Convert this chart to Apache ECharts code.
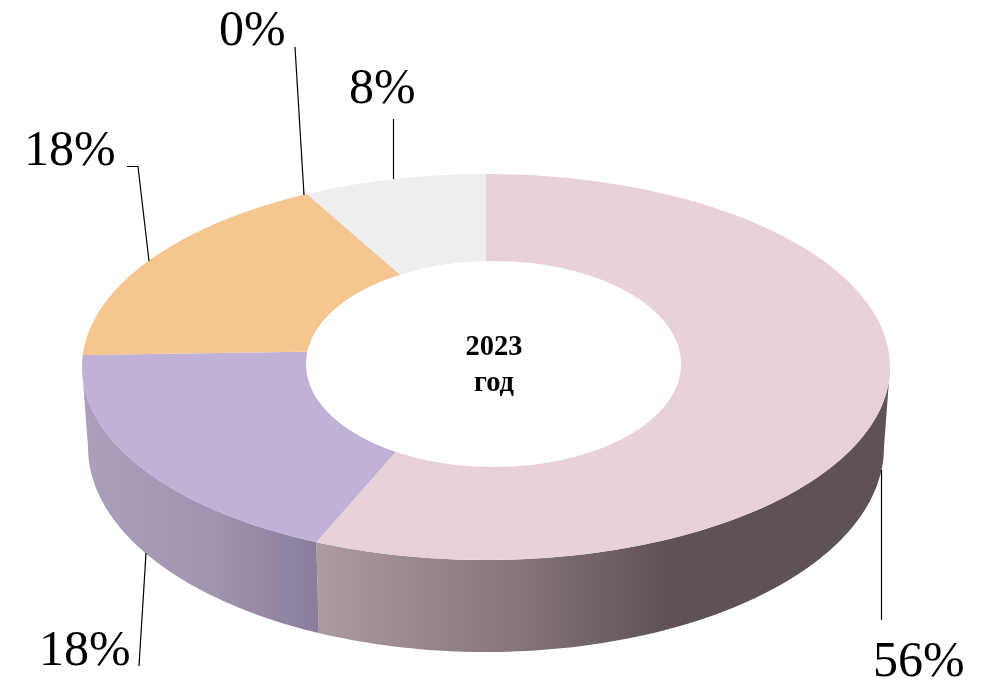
<!DOCTYPE html>
<html>
<head>
<meta charset="utf-8">
<style>html,body{margin:0;padding:0;background:#fff}#c{width:986px;height:681px}</style>
<script src="https://cdn.jsdelivr.net/npm/echarts@6/dist/echarts.min.js"></script>
</head>
<body>
<div id="c"></div>
<script>
// Data (estimated shares; the labels show them rounded)
var shareValues = [56.3, 18.2, 17.5, 0, 8];
var centerLines = ['2023', 'год'];

// Styles
var faceColors = ['#E8D1D9', '#C0B2D7', '#F5C690', '#F5C690', '#EEEEEE'];
var wallStops = [
  [{x:316,c:'#AD9C9F'},{x:520,c:'#857478'},{x:665,c:'#5F5256'}],
  [{x:84,c:'#AB9FBC'},{x:210,c:'#A294B0'},{x:318,c:'#887E9B'}],
  null, null, null
];

// Layout: perspective ring geometry
var G = {
  cx:486, cy:367, rx:404, ry:193,      // top face outline
  hubY:349, k:0.0933,                  // where the spokes converge and perspective strength
  botRx:398, botCy:447, botRy:205,     // lower rim of the wall
  holeCx:493.5, holeCy:364, holeRx:187.5, holeRy:103
};
// Layout: leader lines and labels, one per slice
var leaderPaths = [
  [[881.5,470],[881.5,620]],
  [[146,553],[139,666]],
  [[149,261],[138,166.5],[127,166.5]],
  [[304,195],[295,47]],
  [[393.5,179],[393.5,119]]
];
var labelAnchors = [[873,679],[39,668],[24,168],[219,48],[349,106]];
var LABEL_ASCENT = 41, CENTER_ASCENT = 24;

var total = shareValues.reduce(function(a,b){return a+b;},0);
var T = Math.PI*2;

function rimPoint(theta){
  var u=Math.sin(theta), v=Math.cos(theta);
  var a=G.rx*Math.sqrt(1-G.k*G.k), b=G.ry*(1-G.k*G.k);
  var w=1+G.k*v;
  return [G.cx+a*u/w, G.hubY-b*v/w];
}
function rimAngle(theta){ // parametric angle on the outline ellipse
  var p=rimPoint(theta);
  var f=Math.atan2((p[0]-G.cx)/G.rx,(G.cy-p[1])/G.ry);
  if(f<0) f+=T;
  if(theta>=T-1e-6) f=T;
  return f;
}
function topAt(f){ return [G.cx+G.rx*Math.sin(f), G.cy-G.ry*Math.cos(f)]; }
function botAt(f){ return [G.cx+G.botRx*Math.sin(f), G.botCy-G.botRy*Math.cos(f)]; }

function renderSlice(params, api){
  var i=params.dataIndex, val=api.value(0), before=0;
  for(var n=0;n<i;n++) before+=shareValues[n];
  var t0=before/total*T, t1=(before+val)/total*T;
  var f0=rimAngle(t0), f1=rimAngle(t1), children=[], n2, STEPS=90;
  if(t0===0) f0=0;

  if(val>0){
    var face=[[G.cx,G.hubY]];
    for(n2=0;n2<=STEPS;n2++) face.push(topAt(f0+(f1-f0)*n2/STEPS));
    children.push({type:'polygon',shape:{points:face},style:{fill:faceColors[i]},z2:5});

    var a=Math.max(f0,Math.PI/2), b=Math.min(f1,Math.PI*1.5);
    if(b>a && wallStops[i]){
      var up=[], down=[];
      for(n2=0;n2<=STEPS;n2++){
        var f=a+(b-a)*n2/STEPS;
        up.push(topAt(f)); down.unshift(botAt(f));
      }
      var st=wallStops[i], x0=st[0].x, x1=st[st.length-1].x;
      children.push({type:'polygon',shape:{points:up.concat(down)},z2:3,style:{
        fill:new echarts.graphic.LinearGradient(x0,0,x1,0,st.map(function(s){
          return {offset:(s.x-x0)/(x1-x0),color:s.c};
        }),true)
      }});
    }
  }
  children.push({type:'polyline',shape:{points:leaderPaths[i]},z2:8,
    style:{fill:null,stroke:'#000',lineWidth:1.2}});
  children.push({type:'text',z2:9,style:{
    text:Math.round(val)+'%',x:labelAnchors[i][0],y:labelAnchors[i][1]-LABEL_ASCENT,
    fill:'#000',font:'50px "Liberation Serif"',textAlign:'left',textBaseline:'top'
  }});
  return {type:'group',children:children};
}

var chart=echarts.init(document.getElementById('c'),null,{renderer:'canvas'});
chart.setOption({
  backgroundColor:'#fff',
  animation:false,
  tooltip:{show:false},
  series:[{
    type:'custom',
    coordinateSystem:'none',
    silent:true,
    clip:false,
    data:shareValues.map(function(v){return [v];}),
    encode:{value:0},
    renderItem:renderSlice
  }],
  graphic:[
    {type:'ellipse',z:10,silent:true,shape:{cx:G.holeCx,cy:G.holeCy,rx:G.holeRx,ry:G.holeRy},style:{fill:'#fff'}},
    {type:'text',z:11,silent:true,style:{text:centerLines[0],x:494,y:357-CENTER_ASCENT,fill:'#000',
      font:'bold 28.5px "Liberation Serif"',textAlign:'center',textBaseline:'top'}},
    {type:'text',z:11,silent:true,style:{text:centerLines[1],x:494,y:393-CENTER_ASCENT,fill:'#000',
      font:'bold 28.5px "Liberation Serif"',textAlign:'center',textBaseline:'top'}}
  ]
});
</script>
</body>
</html>
